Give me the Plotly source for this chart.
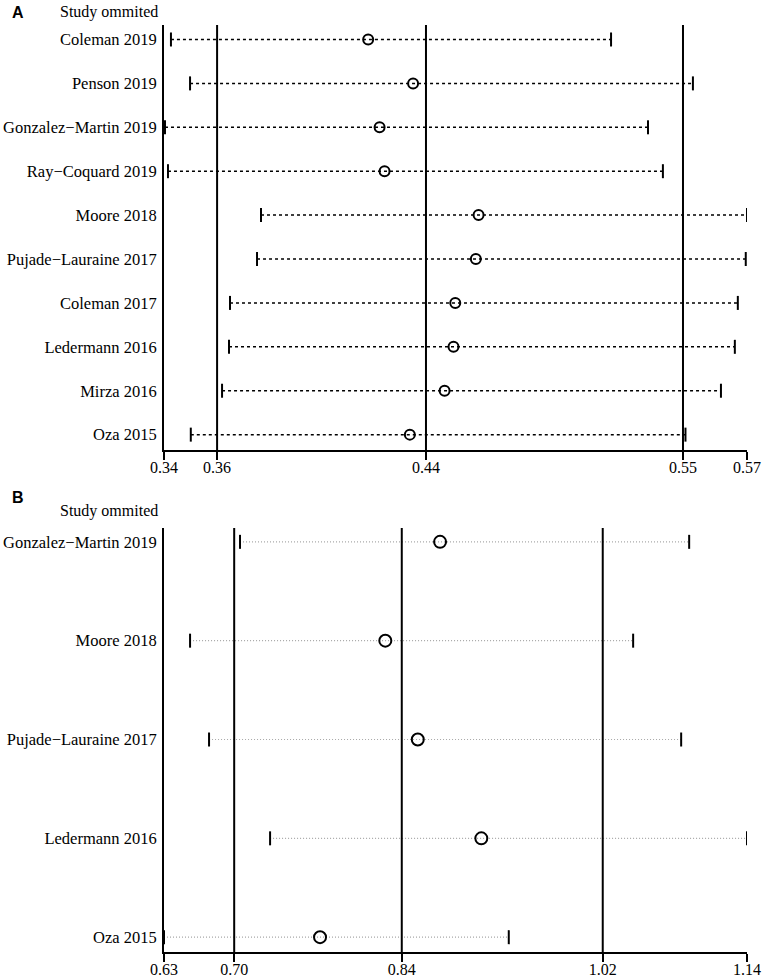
import plotly.graph_objects as go

# --- Painel A: estudos omitidos (estimativa e IC 95%) ---
estudos_a = ["Coleman 2019", "Penson 2019", "Gonzalez−Martin 2019", "Ray−Coquard 2019",
             "Moore 2018", "Pujade−Lauraine 2017", "Coleman 2017", "Ledermann 2016",
             "Mirza 2016", "Oza 2015"]
inf_a = [0.3418, 0.3495, 0.3394, 0.3406, 0.3781, 0.3765, 0.3656, 0.3652, 0.3624, 0.3498]
est_a = [0.4213, 0.4394, 0.4259, 0.4279, 0.4658, 0.4647, 0.4564, 0.4557, 0.4521, 0.4381]
sup_a = [0.5192, 0.5522, 0.5341, 0.5401, 0.5740, 0.5735, 0.5703, 0.5691, 0.5635, 0.5492]
geral_a = [0.3604, 0.4446, 0.5482]        # IC inferior, estimativa, IC superior
eixo_a = [0.339, 0.574]
ticks_a = [0.339, 0.3604, 0.4446, 0.5482, 0.574]
rotulos_a = ["0.34", "0.36", "0.44", "0.55", "0.57"]

# --- Painel B ---
estudos_b = ["Gonzalez−Martin 2019", "Moore 2018", "Pujade−Lauraine 2017",
             "Ledermann 2016", "Oza 2015"]
inf_b = [0.7005, 0.6568, 0.6734, 0.7268, 0.6340]
est_b = [0.8755, 0.8276, 0.8560, 0.9116, 0.7705]
sup_b = [1.0934, 1.0444, 1.0864, 1.1440, 0.9356]
geral_b = [0.6954, 0.8420, 1.0178]
eixo_b = [0.634, 1.144]
ticks_b = [0.634, 0.6954, 0.8420, 1.0178, 1.144]
rotulos_b = ["0.63", "0.70", "0.84", "1.02", "1.14"]

FONTE = "Liberation Serif"
W, H = 768, 978


def px_x(p):
    return p / W


def px_y(p):
    return 1 - p / H


def segmentos(inf, sup):
    xs, ys = [], []
    for i, (a, b) in enumerate(zip(inf, sup)):
        xs += [a, b, None]
        ys += [i, i, None]
    return xs, ys


fig = go.Figure()


def painel(inf, est, sup, geral, xa, ya, cor_linha, dash, larg, tam_circ):
    xs, ys = segmentos(inf, sup)
    fig.add_trace(go.Scatter(x=xs, y=ys, mode="lines", xaxis=xa, yaxis=ya,
                             line=dict(color=cor_linha, width=larg, dash=dash),
                             hoverinfo="skip", showlegend=False))
    idx = list(range(len(est)))
    fig.add_trace(go.Scatter(x=inf + sup, y=idx + idx, mode="markers", xaxis=xa, yaxis=ya,
                             marker=dict(symbol="line-ns-open", size=10, color="black",
                                         line=dict(width=2, color="black")),
                             showlegend=False))
    fig.add_trace(go.Scatter(x=est, y=idx, mode="markers", xaxis=xa, yaxis=ya,
                             marker=dict(symbol="circle-open", size=tam_circ, color="black",
                                         line=dict(width=2, color="black")),
                             showlegend=False))
    for v in geral:
        fig.add_shape(type="line", xref=xa, yref=ya + " domain", x0=v, x1=v, y0=0, y1=1,
                      line=dict(color="black", width=2))


painel(inf_a, est_a, sup_a, geral_a, "x", "y", "black", "dot", 1.5, 10)
painel(inf_b, est_b, sup_b, geral_b, "x2", "y2", "#a8a8a8", "1px,2px", 1.2, 12)

dom_x = [px_x(164), px_x(747)]
eixo_x = dict(domain=dom_x, showline=True, linewidth=2, linecolor="black", automargin=False,
              ticks="outside", ticklen=8, tickwidth=2, tickcolor="black", ticklabelstandoff=-6,
              showgrid=False, zeroline=False, tickfont=dict(family=FONTE, size=16, color="black"))
eixo_y = dict(showline=True, linewidth=2, linecolor="black", ticks="", showgrid=False,
              automargin=False, zeroline=False, tickfont=dict(family=FONTE, size=16.5, color="black"),
              ticklabelstandoff=2)

fig.update_layout(
    width=W, height=H, margin=dict(l=0, r=0, t=0, b=0),
    plot_bgcolor="white", paper_bgcolor="white",
    xaxis=dict(eixo_x, range=eixo_a, tickvals=ticks_a, ticktext=rotulos_a, anchor="y"),
    yaxis=dict(eixo_y, domain=[px_y(450), px_y(25)], range=[9.35, -0.33],
               tickvals=list(range(len(estudos_a))), ticktext=estudos_a, anchor="x"),
    xaxis2=dict(eixo_x, range=eixo_b, tickvals=ticks_b, ticktext=rotulos_b, anchor="y2"),
    yaxis2=dict(eixo_y, domain=[px_y(952), px_y(528)], range=[4.15, -0.14],
                tickvals=list(range(len(estudos_b))), ticktext=estudos_b, anchor="x2"),
)

for letra, titulo_y in [("A", 12), ("B", 498)]:
    fig.add_annotation(text="<b>%s</b>" % letra, x=px_x(10), y=px_y(titulo_y), xref="paper", yref="paper",
                       xanchor="left", yanchor="middle", showarrow=False,
                       font=dict(family="Liberation Sans", size=16, color="black"))
for titulo_y in [12, 511]:
    fig.add_annotation(text="Study ommited", x=px_x(160), y=px_y(titulo_y), xref="paper", yref="paper",
                       xanchor="right", yanchor="middle", showarrow=False,
                       font=dict(family=FONTE, size=16, color="black"))

# tira a margem padrão da página para a figura ocupar a janela inteira
fig.write_html("out.html", config={"displayModeBar": False},
               post_script="document.body.style.margin='0';")
